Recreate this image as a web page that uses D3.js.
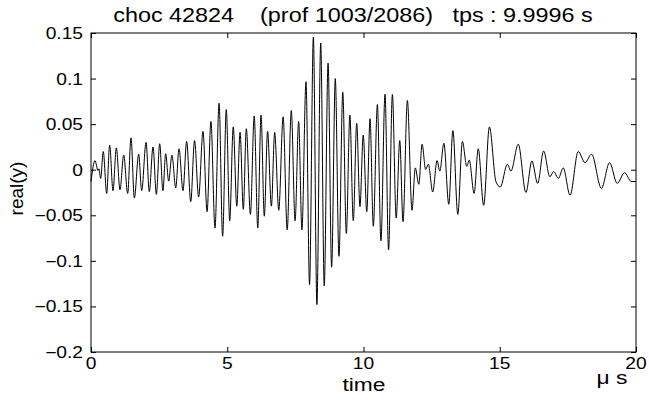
<!DOCTYPE html>
<html>
<head>
<meta charset="utf-8">
<script src="https://cdn.jsdelivr.net/npm/d3@7"></script>
<style>
  html, body { margin: 0; padding: 0; background: #fff; }
  text { font-family: "Liberation Sans", Arial, Helvetica, sans-serif; fill: #000; }
</style>
</head>
<body>
<svg id="chart" width="649" height="403"></svg>
<script>
// ---- data (extrema of the trace) ----
const timeUs = [0,0.147,0.257,0.29,0.355,0.45,0.575,0.685,0.807,0.93,1.064,1.2,1.346,1.468,1.59,1.75,1.86,2.02,2.14,2.275,2.40,2.52,2.64,2.74,
  2.85,2.97,3.11,3.23,3.376,3.51,3.66,3.80,3.95,4.11,4.26,4.40,4.55,4.70,4.83,4.965,5.09,5.22,5.35,5.47,5.59,
  5.70,5.85,5.99,6.12,6.24,6.36,6.48,6.62,6.74,6.89,7.05,7.20,7.35,7.49,7.62,7.74,7.89,8.02,8.16,8.29,8.43,
  8.56,8.70,8.83,8.965,9.10,9.24,9.37,9.50,9.625,9.75,9.87,9.99,10.12,10.24,10.36,10.51,10.64,10.79,10.92,11.06,11.20,11.33,
  11.45,11.61,11.78,11.90,12.03,12.15,12.28,12.38,12.54,12.70,12.80,12.95,13.13,13.28,13.46,13.63,13.79,13.88,14.06,14.21,
  14.41,14.62,14.86,15.02,15.28,15.41,15.68,15.96,16.18,16.39,16.61,16.84,16.98,
  17.15,17.33,17.58,17.88,18.13,18.37,18.73,19.03,19.31,19.58,19.83,20];
const realY = [-0.013,0.010,-0.001,0.001,-0.0095,0.020,-0.026,0.027,-0.023,0.024,-0.022,0.016,-0.026,0.035,-0.031,0.017,-0.023,0.030,-0.024,0.025,-0.027,0.0285,-0.023,0.0175,
  -0.0125,0.016,-0.020,0.023,-0.023,0.031,-0.035,0.032,-0.030,0.042,-0.046,0.053,-0.064,0.073,-0.073,0.066,-0.056,0.047,-0.040,0.041,-0.0435,
  0.045,-0.049,0.059,-0.064,0.060,-0.051,0.042,-0.040,0.041,-0.0445,0.058,-0.066,0.065,-0.056,0.053,-0.066,0.0965,-0.126,0.1455,-0.148,0.139,
  -0.1275,0.117,-0.107,0.100,-0.095,0.085,-0.070,0.060,-0.056,0.051,-0.0405,0.038,-0.046,0.056,-0.062,0.0715,-0.078,0.083,-0.088,0.0825,-0.053,0.032,
  -0.057,0.076,-0.0445,0.002,-0.016,0.028,0.0003,0.006,-0.0245,0.010,-0.0015,0.029,-0.038,0.043,-0.049,0.031,0.0036,0.0106,-0.026,0.023,
  -0.039,0.047,-0.013,-0.019,0.006,-0.0015,0.028,-0.025,0.0095,-0.015,0.0205,-0.0077,-0.002,
  -0.0095,0.002,-0.028,0.020,0.0077,0.017,-0.0205,0.0077,-0.015,-0.0033,-0.013,-0.013];
const xTicks = [0,5,10,15,20];
const yTicks = [-0.2,-0.15,-0.1,-0.05,0,0.05,0.1,0.15];
const titleText = "choc 42824    (prof 1003/2086)   tps : 9.9996 s";
const xLabel = "time";
const unitLabel = "\u03bc s";
const yLabel = "real(y)";

// ---- layout ----
const svg = d3.select("#chart");
const L = 91, R = 636, T = 33, B = 352;
const x = d3.scaleLinear().domain([0, 20]).range([L, R]);
const y = d3.scaleLinear().domain([-0.2, 0.15]).range([B, T]);
const SX = 1.2;           // horizontal stretch of the lettering
const tickFs = 16, labelFs = 19, titleFs = 19.5;

function addText(px, py, str, size, anchor, sx) {
  return svg.append("text")
    .attr("transform", `translate(${px},${py}) scale(${sx},1)`)
    .attr("text-anchor", anchor)
    .style("font-size", size + "px")
    .style("white-space", "pre")
    .text(str);
}

// trace
const pts = timeUs.map((t, i) => [t, realY[i]]);
svg.append("path")
  .datum(pts)
  .attr("fill", "none")
  .attr("stroke", "#000")
  .attr("stroke-width", 1)
  .attr("d", d3.line().x(d => x(d[0])).y(d => y(d[1])).curve(d3.curveMonotoneX));

// box
svg.append("rect").attr("x", L).attr("y", T).attr("width", R - L).attr("height", B - T)
  .attr("fill", "none").attr("stroke", "#000").attr("stroke-width", 1);

const tl = 5;
// inward ticks on all four sides
const axB = svg.append("g").attr("transform", `translate(0,${B})`)
  .call(d3.axisBottom(x).tickValues(xTicks).tickSizeInner(-tl).tickSizeOuter(0).tickFormat(""));
const axT = svg.append("g").attr("transform", `translate(0,${T})`)
  .call(d3.axisTop(x).tickValues(xTicks).tickSizeInner(-tl).tickSizeOuter(0).tickFormat(""));
const axL = svg.append("g").attr("transform", `translate(${L},0)`)
  .call(d3.axisLeft(y).tickValues(yTicks).tickSizeInner(-tl).tickSizeOuter(0).tickFormat(""));
const axR = svg.append("g").attr("transform", `translate(${R},0)`)
  .call(d3.axisRight(y).tickValues(yTicks).tickSizeInner(-tl).tickSizeOuter(0).tickFormat(""));
[axB, axT, axL, axR].forEach(g => {
  g.select(".domain").remove();
  g.selectAll(".tick line").attr("stroke", "#000");
});

// tick labels
const fmtY = d => d === 0 ? "0" : d3.format("")(d).replace("-", "\u2212");
xTicks.forEach(v => addText(x(v), B + 17, String(v), tickFs, "middle", SX));
yTicks.forEach(v => addText(L - 8, y(v) + 6, fmtY(v), tickFs, "end", SX));

// titles
addText(353, 22, titleText, titleFs, "middle", SX);
addText(364, 391, xLabel, labelFs, "middle", SX);
addText(612, 384, unitLabel, labelFs, "middle", SX);
svg.append("text").attr("transform", `translate(23,${(T + B) / 2 - 4}) rotate(-90)`).attr("text-anchor", "middle")
  .style("font-size", "19px").text(yLabel);
</script>
</body>
</html>
